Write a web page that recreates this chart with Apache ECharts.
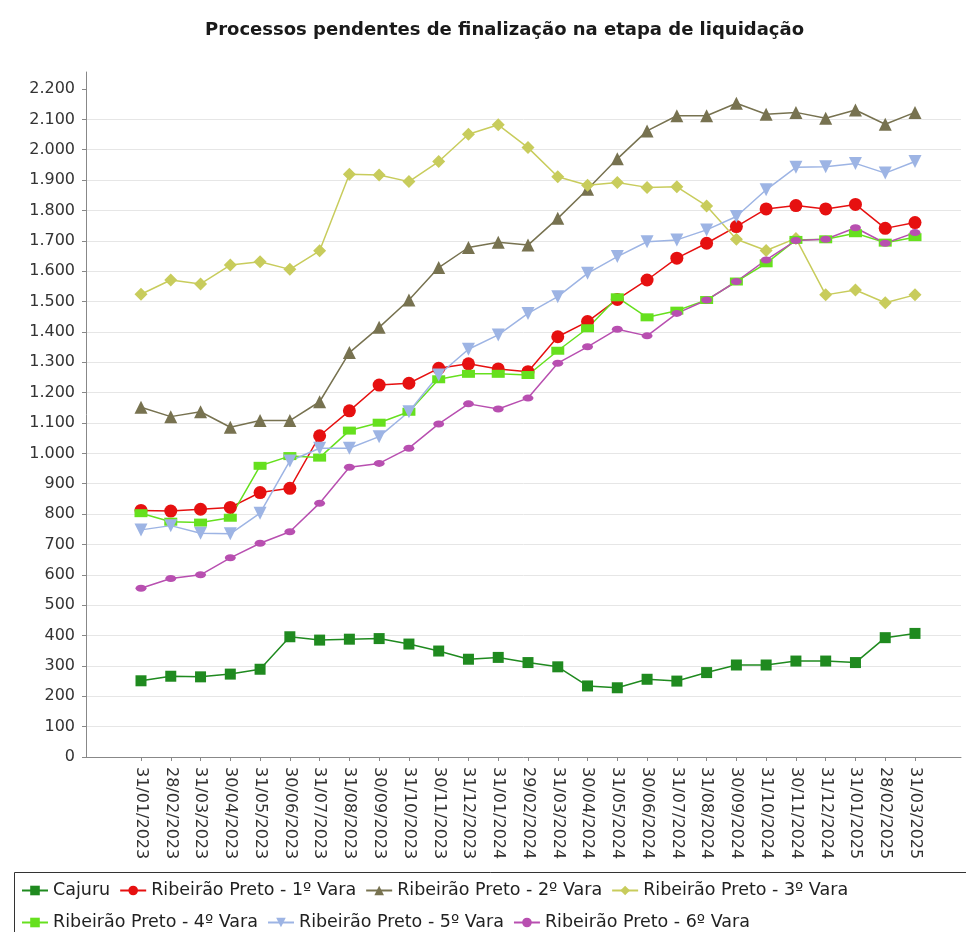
<!DOCTYPE html>
<html>
<head>
<meta charset="utf-8">
<script src="https://cdn.jsdelivr.net/npm/echarts@6/dist/echarts.min.js"></script>
<style>
html, body { margin: 0; padding: 0; background: #fff; }
#main { width: 966px; height: 932px; }
</style>
</head>
<body>
<div id="main"></div>
<script>
// datas do fechamento mensal
var datas = ['31/01/2023', '28/02/2023', '31/03/2023', '30/04/2023', '31/05/2023', '30/06/2023',
	'31/07/2023', '31/08/2023', '30/09/2023', '31/10/2023', '30/11/2023', '31/12/2023',
	'31/01/2024', '29/02/2024', '31/03/2024', '30/04/2024', '31/05/2024', '30/06/2024',
	'31/07/2024', '31/08/2024', '30/09/2024', '31/10/2024', '30/11/2024', '31/12/2024',
	'31/01/2025', '28/02/2025', '31/03/2025'];

var cajuru = [251, 266, 264, 273, 289, 396, 385, 388, 390, 372, 349, 322, 328, 311,
	297, 234, 228, 256, 250, 278, 303, 303, 316, 316, 311, 393, 407];
var vara1 = [812, 810, 816, 822, 871, 885, 1058, 1140, 1225, 1231, 1280, 1295, 1278, 1269,
	1384, 1434, 1507, 1571, 1643, 1692, 1747, 1805, 1816, 1805, 1820, 1741, 1760];
var vara2 = [1152, 1121, 1137, 1086, 1108, 1108, 1170, 1332, 1415, 1505, 1612, 1678, 1695, 1686,
	1774, 1870, 1970, 2062, 2112, 2112, 2153, 2117, 2123, 2104, 2131, 2084, 2123];
var vara3 = [1524, 1571, 1558, 1620, 1631, 1606, 1667, 1919, 1917, 1895, 1961, 2051, 2082, 2007,
	1911, 1883, 1892, 1876, 1878, 1815, 1705, 1668, 1708, 1522, 1538, 1496, 1522];
var vara4 = [803, 775, 772, 788, 959, 991, 986, 1075, 1101, 1137, 1244, 1262, 1262, 1258,
	1338, 1412, 1514, 1448, 1470, 1505, 1566, 1626, 1703, 1705, 1725, 1694, 1712];
var vara5 = [748, 762, 737, 735, 803, 975, 1017, 1017, 1055, 1137, 1258, 1343, 1390, 1461,
	1516, 1593, 1648, 1697, 1703, 1736, 1780, 1868, 1942, 1944, 1955, 1923, 1961];
var vara6 = [556, 588, 600, 656, 704, 742, 836, 954, 967, 1017, 1097, 1163, 1146, 1182,
	1297, 1351, 1409, 1387, 1461, 1505, 1566, 1637, 1701, 1705, 1743, 1692, 1727];

var yTicks = [0, 100, 200, 300, 400, 500, 600, 700, 800, 900, 1000, 1100,
	1200, 1300, 1400, 1500, 1600, 1700, 1800, 1900, 2000, 2100, 2200];

var fonte = 'DejaVu Sans';
var yMax = 2256;

function milhar(v) {
	return String(v).replace(/\B(?=(\d{3})+(?!\d))/g, '.');
}

function serie(nome, dados, cor, simbolo, tamanho, giro) {
	return {
		name: nome,
		type: 'line',
		xAxisIndex: 1,
		yAxisIndex: 1,
		data: dados,
		symbol: simbolo,
		symbolSize: tamanho,
		symbolRotate: giro || 0,
		showAllSymbol: true,
		itemStyle: { color: cor },
		lineStyle: { color: cor, width: 1.5 }
	};
}

var myChart = echarts.init(document.getElementById('main'));
myChart.setOption({
	animation: false,
	backgroundColor: '#fff',
	title: {
		text: 'Processos pendentes de finalização na etapa de liquidação',
		left: 200,
		top: 16,
		textStyle: { fontFamily: fonte, fontSize: 18, fontWeight: 'bold', color: '#1a1a1a' }
	},
	legend: {
		left: 16,
		top: 874,
		width: 940,
		itemWidth: 26,
		itemHeight: 12,
		itemGap: 9,
		textStyle: { fontFamily: fonte, fontSize: 17.5, color: '#222', lineHeight: 23 },
		data: ['Cajuru', 'Ribeirão Preto - 1º Vara', 'Ribeirão Preto - 2º Vara', 'Ribeirão Preto - 3º Vara',
			'Ribeirão Preto - 4º Vara', 'Ribeirão Preto - 5º Vara', 'Ribeirão Preto - 6º Vara']
	},
	graphic: [{
		type: 'rect',
		shape: { x: 14.5, y: 872.5, width: 980, height: 90 },
		style: { fill: 'none', stroke: '#333', lineWidth: 1 },
		silent: true
	}],
	grid: [
		{ left: 86, right: 5, top: 72, bottom: 175 },
		{ left: 141, right: 51, top: 72, bottom: 175 }
	],
	xAxis: [{
		gridIndex: 0,
		type: 'value',
		min: 0,
		max: 1,
		axisLine: { show: true, lineStyle: { color: '#888' } },
		axisTick: { show: false },
		axisLabel: { show: false },
		splitLine: { show: false }
	}, {
		gridIndex: 1,
		type: 'category',
		boundaryGap: false,
		data: datas,
		axisLine: { show: false },
		axisTick: { show: true, length: 4, lineStyle: { color: '#888' } },
		axisLabel: { rotate: -90, interval: 0, margin: 10, fontFamily: fonte, fontSize: 16, color: '#333' },
		splitLine: { show: false }
	}],
	yAxis: [{
		gridIndex: 0,
		type: 'value',
		min: 0,
		max: yMax,
		interval: 100,
		axisLine: { show: true, lineStyle: { color: '#888' } },
		axisTick: { show: true, length: 4, customValues: yTicks, lineStyle: { color: '#888' } },
		axisLabel: {
			customValues: yTicks,
			margin: 11,
			fontFamily: fonte,
			fontSize: 16,
			color: '#333',
			formatter: function (v) { return milhar(v); }
		},
		splitLine: { show: true, showMaxLine: false, lineStyle: { color: '#e6e6e6', width: 1 } }
	}, {
		gridIndex: 1,
		type: 'value',
		min: 0,
		max: yMax,
		show: false
	}],
	series: [
		serie('Cajuru', cajuru, '#1f8a1f', 'rect', 11),
		serie('Ribeirão Preto - 1º Vara', vara1, '#e61010', 'circle', 13),
		serie('Ribeirão Preto - 2º Vara', vara2, '#777250', 'triangle', 13),
		serie('Ribeirão Preto - 3º Vara', vara3, '#c8cc5c', 'diamond', 13),
		serie('Ribeirão Preto - 4º Vara', vara4, '#66e01e', 'rect', [13, 8]),
		serie('Ribeirão Preto - 5º Vara', vara5, '#9db4e4', 'triangle', 13, 180),
		serie('Ribeirão Preto - 6º Vara', vara6, '#b84fb0', 'circle', [11, 7])
	]
});
</script>
</body>
</html>
